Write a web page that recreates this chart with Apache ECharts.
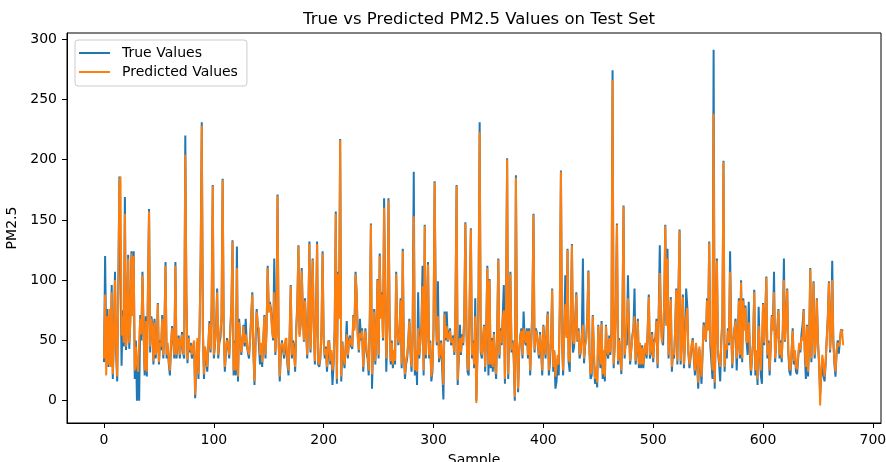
<!DOCTYPE html>
<html>
<head>
<meta charset="utf-8">
<script src="https://cdn.jsdelivr.net/npm/echarts@6/dist/echarts.min.js"></script>
<style>
  html, body { margin: 0; padding: 0; background: #fff; }
  #chart { width: 886px; height: 462px; }
</style>
</head>
<body>
<div id="chart"></div>
<script>
// values, one row = 10 samples
const trueValues = [
  32, 120, 45, 76, 28, 60, 40, 96, 18, 55,
  107, 40, 16, 95, 186, 187, 29, 75, 45, 169,
  42, 60, 121, 43, 70, 124, 74, 124, 18, 50,
  0, 25, 0, 71, 50, 107, 60, 21, 70, 20,
  95, 159, 40, 70, 65, 30, 68, 35, 45, 81,
  30, 50, 42, 71, 35, 60, 115, 35, 45, 30,
  21, 45, 62, 50, 35, 115, 35, 48, 54, 35,
  45, 57, 40, 35, 220, 90, 31, 54, 40, 48,
  35, 42, 49, 2, 30, 49, 18, 60, 120, 231,
  60, 18, 43, 35, 24, 45, 66, 40, 80, 179,
  35, 46, 60, 93, 35, 48, 52, 70, 184, 60,
  24, 40, 52, 45, 35, 60, 80, 133, 21, 50,
  21, 128, 16, 68, 68, 38, 50, 63, 45, 68,
  46, 40, 35, 52, 70, 90, 40, 13, 50, 76,
  63, 63, 30, 45, 28, 50, 71, 35, 60, 112,
  75, 82, 76, 60, 50, 118, 38, 60, 171, 50,
  16, 38, 50, 42, 35, 48, 43, 30, 21, 55,
  96, 35, 50, 46, 24, 60, 80, 129, 55, 63,
  110, 75, 49, 85, 60, 35, 70, 132, 40, 80,
  118, 60, 30, 71, 132, 30, 28, 35, 60, 124,
  50, 35, 45, 24, 38, 50, 30, 40, 13, 30,
  60, 157, 14, 107, 70, 217, 16, 49, 35, 27,
  45, 66, 35, 50, 54, 45, 43, 71, 60, 107,
  90, 55, 40, 68, 50, 60, 24, 45, 60, 40,
  35, 21, 70, 147, 10, 45, 76, 30, 55, 101,
  35, 122, 70, 90, 50, 168, 88, 24, 60, 168,
  70, 30, 50, 27, 40, 30, 107, 60, 46, 55,
  85, 27, 126, 40, 18, 30, 35, 50, 68, 40,
  24, 60, 190, 21, 40, 13, 90, 35, 50, 63,
  112, 21, 146, 35, 60, 115, 35, 50, 16, 24,
  60, 182, 80, 46, 99, 32, 38, 50, 24, 1,
  74, 50, 74, 49, 55, 60, 46, 50, 54, 38,
  80, 179, 13, 35, 63, 38, 55, 46, 70, 148,
  60, 24, 21, 90, 143, 35, 50, 27, 85, 0,
  40, 90, 231, 40, 35, 50, 63, 24, 60, 112,
  21, 101, 27, 52, 24, 57, 30, 18, 60, 118,
  35, 60, 46, 70, 96, 14, 80, 201, 18, 60,
  107, 40, 50, 35, 0, 187, 50, 7, 40, 54,
  60, 35, 74, 50, 46, 60, 35, 60, 21, 50,
  76, 155, 40, 60, 57, 45, 35, 57, 40, 21,
  63, 50, 35, 60, 74, 21, 32, 50, 93, 24,
  40, 10, 16, 35, 21, 80, 191, 50, 21, 60,
  104, 54, 126, 32, 24, 70, 130, 40, 45, 68,
  90, 49, 60, 35, 40, 55, 118, 31, 45, 52,
  70, 108, 40, 18, 21, 71, 40, 14, 25, 11,
  63, 40, 27, 66, 18, 40, 16, 63, 40, 35,
  54, 38, 60, 274, 27, 46, 80, 147, 30, 52,
  52, 22, 70, 162, 35, 50, 46, 104, 60, 30,
  30, 54, 60, 93, 30, 40, 68, 27, 46, 27,
  46, 27, 40, 46, 35, 60, 88, 35, 40, 57,
  32, 50, 52, 68, 27, 71, 129, 65, 50, 46,
  80, 146, 63, 126, 35, 60, 86, 24, 40, 35,
  60, 93, 30, 90, 142, 30, 52, 88, 27, 50,
  93, 79, 40, 27, 35, 45, 52, 35, 21, 46,
  30, 10, 43, 30, 14, 40, 65, 55, 49, 85,
  60, 132, 46, 32, 18, 291, 10, 60, 118, 40,
  30, 16, 50, 68, 199, 24, 45, 35, 60, 46,
  124, 60, 27, 49, 60, 68, 25, 50, 85, 35,
  100, 32, 85, 60, 79, 50, 38, 82, 40, 21,
  21, 50, 92, 21, 40, 13, 78, 40, 21, 14,
  81, 46, 70, 103, 35, 50, 21, 45, 71, 60,
  107, 32, 49, 60, 76, 35, 50, 32, 60, 118,
  49, 70, 93, 40, 24, 21, 40, 60, 30, 40,
  24, 22, 35, 46, 40, 55, 63, 76, 40, 18,
  63, 20, 50, 110, 32, 60, 99, 35, 50, 85,
  50, 30, 5, 20, 35, 21, 16, 30, 52, 70,
  99, 40, 60, 116, 50, 30, 20, 40, 50, 39,
  50, 59, 59, 58
];

const predictedValues = [
  35, 88, 21, 70, 30, 76, 28, 90, 22, 50,
  100, 45, 20, 90, 180, 186, 54, 70, 48, 155,
  45, 55, 118, 48, 65, 122, 70, 120, 25, 45,
  30, 24, 52, 68, 55, 104, 58, 25, 66, 24,
  90, 157, 45, 68, 62, 33, 65, 38, 42, 80,
  32, 48, 45, 68, 38, 58, 112, 38, 48, 32,
  25, 48, 60, 52, 38, 112, 38, 50, 52, 38,
  48, 55, 42, 38, 204, 85, 34, 52, 42, 46,
  38, 45, 50, 5, 32, 52, 22, 58, 115, 228,
  58, 22, 45, 38, 28, 48, 64, 42, 78, 178,
  38, 48, 58, 90, 38, 50, 50, 68, 183, 58,
  28, 42, 50, 47, 38, 58, 78, 132, 25, 48,
  25, 110, 20, 65, 66, 40, 48, 62, 48, 55,
  48, 42, 38, 50, 68, 88, 42, 16, 48, 74,
  62, 60, 38, 48, 32, 50, 70, 38, 58, 110,
  73, 80, 74, 58, 52, 90, 40, 58, 170, 48,
  20, 45, 48, 44, 38, 50, 52, 33, 25, 53,
  95, 38, 48, 48, 28, 58, 78, 128, 53, 62,
  108, 73, 50, 83, 58, 38, 68, 130, 42, 78,
  117, 58, 33, 70, 130, 33, 30, 38, 58, 122,
  48, 38, 43, 28, 50, 48, 33, 42, 25, 33,
  58, 155, 18, 105, 68, 216, 20, 48, 38, 30,
  43, 55, 38, 48, 52, 47, 45, 70, 58, 105,
  88, 53, 42, 56, 52, 58, 28, 47, 58, 42,
  38, 25, 68, 146, 22, 47, 74, 33, 53, 100,
  38, 120, 68, 88, 52, 160, 86, 35, 58, 166,
  68, 33, 48, 30, 42, 33, 105, 58, 48, 53,
  83, 30, 124, 42, 22, 33, 38, 48, 66, 42,
  28, 58, 153, 25, 42, 24, 60, 38, 48, 62,
  95, 25, 145, 38, 58, 113, 38, 48, 20, 28,
  58, 181, 78, 48, 70, 35, 40, 48, 35, 13,
  72, 52, 62, 50, 53, 58, 48, 52, 52, 40,
  78, 178, 17, 38, 52, 40, 53, 48, 68, 147,
  58, 28, 25, 88, 142, 38, 48, 30, 70, -2,
  38, 88, 223, 42, 38, 48, 62, 28, 58, 110,
  30, 100, 30, 50, 28, 55, 33, 22, 58, 117,
  38, 58, 48, 68, 75, 18, 78, 200, 22, 58,
  105, 42, 48, 38, 3, 185, 48, 10, 42, 52,
  58, 38, 60, 52, 48, 58, 38, 58, 25, 48,
  74, 154, 42, 58, 55, 47, 38, 55, 42, 25,
  62, 48, 38, 58, 72, 25, 40, 48, 92, 28,
  42, 20, 20, 38, 30, 78, 190, 48, 25, 58,
  80, 52, 125, 35, 32, 68, 129, 50, 47, 66,
  88, 50, 58, 38, 42, 53, 63, 35, 47, 50,
  68, 107, 42, 22, 25, 70, 42, 18, 28, 15,
  62, 42, 30, 64, 22, 42, 20, 62, 42, 38,
  52, 40, 58, 266, 30, 48, 78, 146, 33, 50,
  50, 25, 68, 161, 38, 48, 48, 85, 58, 33,
  33, 52, 58, 70, 33, 42, 66, 30, 48, 30,
  44, 30, 42, 48, 38, 58, 86, 38, 42, 55,
  35, 48, 50, 66, 30, 70, 106, 63, 48, 48,
  78, 145, 62, 118, 38, 58, 84, 28, 42, 38,
  58, 92, 33, 88, 141, 33, 50, 86, 30, 48,
  70, 77, 42, 30, 38, 47, 50, 38, 25, 48,
  33, 15, 45, 33, 20, 42, 63, 53, 50, 83,
  58, 131, 48, 45, 25, 238, 15, 58, 116, 42,
  33, 28, 48, 66, 198, 28, 47, 42, 58, 48,
  107, 58, 30, 50, 58, 66, 35, 48, 83, 38,
  98, 35, 83, 58, 77, 48, 50, 65, 42, 25,
  25, 48, 90, 25, 42, 18, 62, 42, 25, 25,
  80, 48, 68, 102, 38, 48, 25, 47, 70, 58,
  90, 35, 50, 58, 75, 38, 48, 35, 58, 100,
  50, 68, 92, 42, 28, 25, 42, 58, 33, 42,
  28, 26, 38, 48, 42, 53, 50, 75, 42, 28,
  62, 24, 48, 109, 35, 58, 98, 38, 48, 84,
  48, 33, -4, 25, 38, 30, 20, 33, 50, 68,
  98, 42, 58, 100, 48, 33, 24, 42, 48, 45,
  48, 59, 57, 46
];

const xTicks = [0, 100, 200, 300, 400, 500, 600, 700];
const yTicks = [0, 50, 100, 150, 200, 250, 300];

const font = "DejaVu Sans";
const myChart = echarts.init(document.getElementById("chart"), null, { renderer: "canvas" });

// x is the sample index
const toPairs = (arr) => arr.map((v, i) => [i, v]);

const axisCommon = {
  axisLine: { show: true, onZero: false, lineStyle: { color: "#000", width: 1 } },
  axisTick: { show: true, length: 5, lineStyle: { color: "#000", width: 1 } },
  splitLine: { show: false },
  nameTextStyle: { fontFamily: font, fontSize: 14, color: "#000" },
};

var option = {
  animation: false,
  backgroundColor: "#fff",
  title: {
    text: "True vs Predicted PM2.5 Values on Test Set",
    left: 474,
    top: 6,
    textAlign: "center",
    textStyle: { fontFamily: font, fontSize: 16.5, fontWeight: "normal", color: "#000" },
  },
  legend: {
    orient: "vertical",
    left: 75,
    top: 40,
    padding: [6, 9, 7, 4],
    itemGap: 5,
    itemWidth: 31,
    itemHeight: 2,
    icon: "rect",
    backgroundColor: "rgba(255,255,255,0.8)",
    borderColor: "#cccccc",
    borderWidth: 1,
    borderRadius: 3,
    textStyle: { fontFamily: font, fontSize: 14, color: "#000", padding: [0, 0, 0, 7] },
    data: ["True Values", "Predicted Values"],
  },
  grid: {
    left: 67,
    right: 5,
    top: 33,
    bottom: 39,
    show: true,
    borderColor: "#000",
    borderWidth: 1,
    containLabel: false,
    outerBoundsMode: "none",
  },
  xAxis: {
    ...axisCommon,
    type: "value",
    min: -33.7,
    max: 707.4,
    name: "Sample",
    nameLocation: "middle",
    nameGap: 30,
    axisTick: { ...axisCommon.axisTick, customValues: xTicks },
    axisLabel: { customValues: xTicks, margin: 10, fontFamily: font, fontSize: 14, color: "#000" },
  },
  yAxis: {
    ...axisCommon,
    type: "value",
    min: -18.5,
    max: 305,
    name: "PM2.5",
    nameLocation: "middle",
    nameGap: 40,
    axisTick: { ...axisCommon.axisTick, customValues: yTicks },
    axisLabel: { customValues: yTicks, margin: 10, fontFamily: font, fontSize: 14, color: "#000" },
  },
  series: [
    {
      name: "True Values",
      type: "line",
      data: toPairs(trueValues),
      showSymbol: false,
      symbol: "none",
      color: "#1f77b4",
      lineStyle: { color: "#1f77b4", width: 2 },
      clip: true,
      z: 2,
    },
    {
      name: "Predicted Values",
      type: "line",
      data: toPairs(predictedValues),
      showSymbol: false,
      symbol: "none",
      color: "#ff7f0e",
      lineStyle: { color: "#ff7f0e", width: 2 },
      clip: true,
      z: 3,
    },
  ],
};

option && myChart.setOption(option);
</script>
</body>
</html>
